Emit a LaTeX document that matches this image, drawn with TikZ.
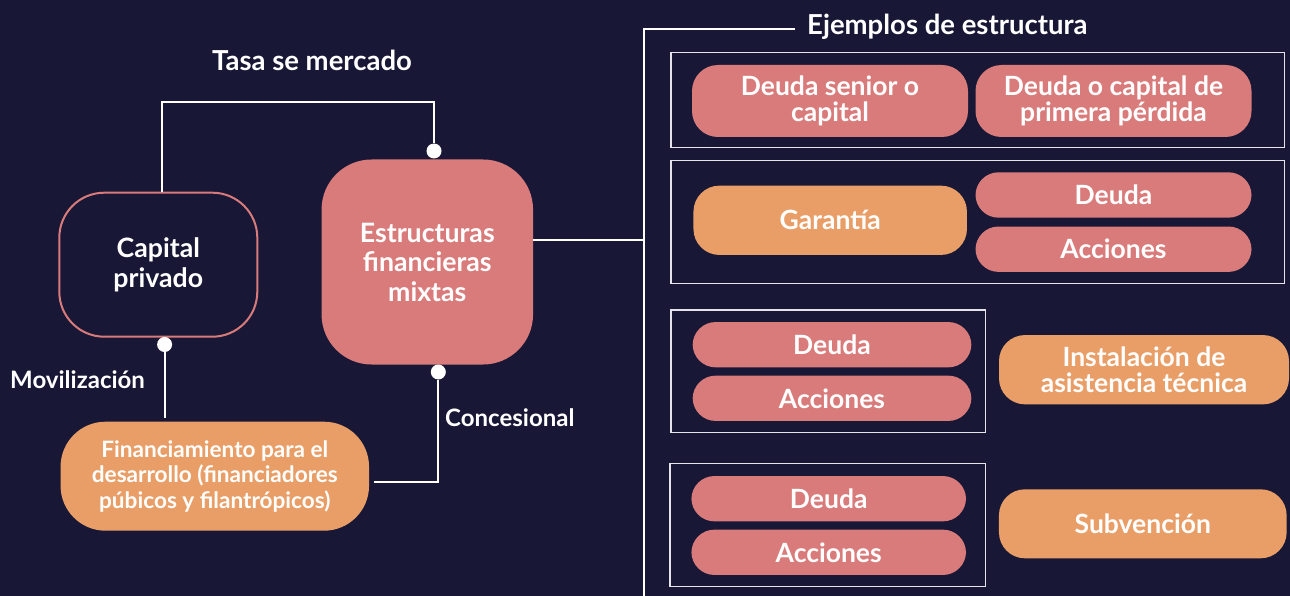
\documentclass[tikz,border=0pt]{standalone}
\usepackage{fontspec}
\setmainfont{Lato}
\usetikzlibrary{calc}
\definecolor{bg}{HTML}{181836}
\definecolor{pinkc}{HTML}{D97B7B}
\definecolor{orngc}{HTML}{E89E66}
\definecolor{framec}{HTML}{E4E4EA}
\begin{document}
\begin{tikzpicture}[x=1pt,y=-1pt,
  every node/.style={text=white, inner sep=0pt},
  bigtxt/.style={font=\fontsize{26.7}{29.5}\selectfont\bfseries, align=center},
  pilltxt/.style={font=\fontsize{26.5}{26}\selectfont\bfseries, align=center},
  lbl/.style={font=\fontsize{24}{26}\selectfont\bfseries},
  biglbl/.style={font=\fontsize{27.5}{30}\selectfont\bfseries},
  finbox/.style={fill=orngc, rounded corners=45pt, font=\fontsize{22.6}{25.3}\selectfont\bfseries, align=center},
  capbox/.style={draw=pinkc, line width=2pt, rounded corners=45pt, bigtxt},
  estbox/.style={fill=pinkc, rounded corners=50pt, bigtxt},
  pinkpill/.style={fill=pinkc, rounded corners=23pt, pilltxt},
  orngpill/.style={fill=orngc, rounded corners=26pt, pilltxt},
  framebox/.style={draw=framec, line width=1.3pt},
  conn/.style={draw=white, line width=2.2pt},
  dotc/.style={circle, fill=white, minimum size=15pt}
]
\fill[bg] (0,0) rectangle (1290,596);
\useasboundingbox (0,0) rectangle (1290,596);

% left part
\node[capbox, minimum width=198pt, minimum height=144pt] (cap) at (158.3,264.7) {Capital\\privado};
\node[estbox, minimum width=211.5pt, minimum height=205pt] (est) at (427.3,262) {Estructuras\\financieras\\mixtas};
\node[finbox, minimum width=308.5pt, minimum height=109pt] (fin) at (214.8,476.2) {Financiamiento para el\\desarrollo (financiadores\\púbicos y filantrópicos)};

\node[dotc] (d1) at (434,151) {};
\node[dotc] (d2) at (164.6,344.5) {};
\node[dotc] (d3) at (438.3,372) {};

\draw[conn] ([xshift=4pt]cap.north) |- (d1 |- 0,102) -- (d1);
\draw[conn] (d2) -- ([yshift=4pt]fin.north -| d2);
\coordinate (f1) at ([shift={(5pt,-6pt)}]fin.east);
\draw[conn] (f1) -| (d3);

\node[biglbl] (tasa) at (312,60) {Tasa se mercado};
\node[lbl, anchor=west] (movi) at (10,380) {Movilización};
\node[lbl, anchor=west] (conc) at (445,418) {Concesional};

% right part
\node[biglbl, anchor=west] (title) at (807,27) {Ejemplos de estructura};
\coordinate (vb) at (644,596);
\draw[conn] ([xshift=-12pt,yshift=-2pt]title.west) -| (vb);
\coordinate (e1) at ([yshift=22pt]est.east);
\draw[conn] (e1) -- (e1 -| vb);

\draw[framebox] (671,52.7) rectangle (1284.5,147.3);
\draw[framebox] (671,160.7) rectangle (1284.5,283.3);
\draw[framebox] (671,310) rectangle (985.4,432.7);
\draw[framebox] (670,463.7) rectangle (985.4,586.7);

\node[pinkpill, rounded corners=26pt, minimum width=276pt, minimum height=72pt] (p1) at (830,101) {Deuda senior o\\capital};
\node[pinkpill, rounded corners=26pt, minimum width=276pt, minimum height=72pt] (p2) at (1113.5,101) {Deuda o capital de\\primera pérdida};

\node[orngpill, minimum width=273.5pt, minimum height=69.3pt] (gar) at (830.2,220.3) {Garantía};
\node[pinkpill, minimum width=276pt, minimum height=45.4pt] (deu2) at (1113.5,195) {Deuda};
\node[pinkpill, minimum width=276pt, minimum height=45.4pt] (acc2) at (1113.5,249.2) {Acciones};

\node[pinkpill, minimum width=278.7pt, minimum height=45.3pt] (deu3) at (832,344.7) {Deuda};
\node[pinkpill, minimum width=278.7pt, minimum height=45.3pt] (acc3) at (832,398.3) {Acciones};
\node[orngpill, minimum width=290pt, minimum height=69.3pt] (ins) at (1144,369.7) {Instalación de\\asistencia técnica};

\node[pinkpill, minimum width=274.6pt, minimum height=45.3pt] (deu4) at (828.7,498.7) {Deuda};
\node[pinkpill, minimum width=274.6pt, minimum height=45.3pt] (acc4) at (828.7,552.3) {Acciones};
\node[orngpill, minimum width=287.7pt, minimum height=69pt] (sub) at (1142.8,523.8) {Subvención};
\end{tikzpicture}
\end{document}
